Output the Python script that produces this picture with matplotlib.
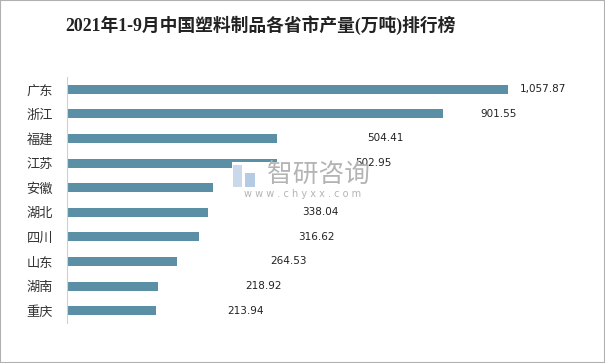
import matplotlib.pyplot as plt
from matplotlib.patches import Rectangle

plt.rcParams['font.family'] = ['Noto Sans CJK SC', 'DejaVu Sans']

provinces = ['广东', '浙江', '福建', '江苏', '安徽', '湖北', '四川', '山东', '湖南', '重庆']
output = [1057.87, 901.55, 504.41, 502.95, 349.77, 338.04, 316.62, 264.53, 218.92, 213.94]
# the 安徽 label is hidden under the watermark in the original
value_labels = ['1,057.87', '901.55', '504.41', '502.95', '',
                '338.04', '316.62', '264.53', '218.92', '213.94']
title = '2021年1-9月中国塑料制品各省市产量(万吨)排行榜'

# label gaps after bar end (pixels), as placed in the original
label_gap = [12, 38, 90, 79, 92, 94, 99, 93, 87, 71]

W, H = 605, 363
fig = plt.figure(figsize=(W / 100, H / 100), dpi=100)
fig.patches.append(Rectangle((0, 0), 1, 1, transform=fig.transFigure,
                             fill=False, edgecolor='#b0b0b0', linewidth=1.5))

ax = fig.add_axes([67 / W, 1 - 323 / H, 488 / W, 246 / H])
ypos = list(range(len(provinces)))
ax.barh(ypos, output, height=0.37, color='#5b8fa5', edgecolor='none')
ax.set_ylim(9.5, -0.5)
ax.set_xlim(0, 488 / 0.4169)
ax.set_yticks(ypos)
ax.set_yticklabels(provinces, fontsize=9.5, color='#333333')
ax.tick_params(axis='y', length=0, pad=10)
ax.set_xticks([])
for s in ['top', 'right', 'bottom']:
    ax.spines[s].set_visible(False)
ax.spines['left'].set_color('#d0d0d0')

for y, v, lab, g in zip(ypos, output, value_labels, label_gap):
    if lab:
        ax.annotate(lab, (v, y), xytext=(g * 0.72, 0), textcoords='offset points',
                    ha='left', va='center', fontsize=7.5, color='#222222',
                    family='DejaVu Sans')

fig.text(260 / W, 1 - 25 / H, title, ha='center', va='center', fontsize=12.8,
         fontweight='bold', color='#222222',
         family=['Liberation Serif', 'Noto Sans CJK SC'])

# watermark
fig.patches.append(Rectangle((232 / W, 1 - 200 / H), 122 / W, 38 / H,
                             transform=fig.transFigure, facecolor='white',
                             edgecolor='none', zorder=5))
fig.patches.append(Rectangle((233 / W, 1 - 187 / H), 9 / W, 22 / H,
                             transform=fig.transFigure, facecolor='#c9d8ea',
                             edgecolor='none', zorder=6))
fig.patches.append(Rectangle((245 / W, 1 - 187 / H), 10 / W, 14 / H,
                             transform=fig.transFigure, facecolor='#b5cbe4',
                             edgecolor='none', zorder=6))
fig.text(319 / W, 1 - 175 / H, '智研咨询', ha='center', va='center',
         fontsize=18.5, color='#b4b4b4', zorder=7)
fig.text(303 / W, 1 - 194 / H, 'w w w . c h y x x . c o m', ha='center',
         va='center', fontsize=7, color='#b4b4b4', zorder=7,
         family='DejaVu Sans')

fig.savefig('out.png', dpi=100)
